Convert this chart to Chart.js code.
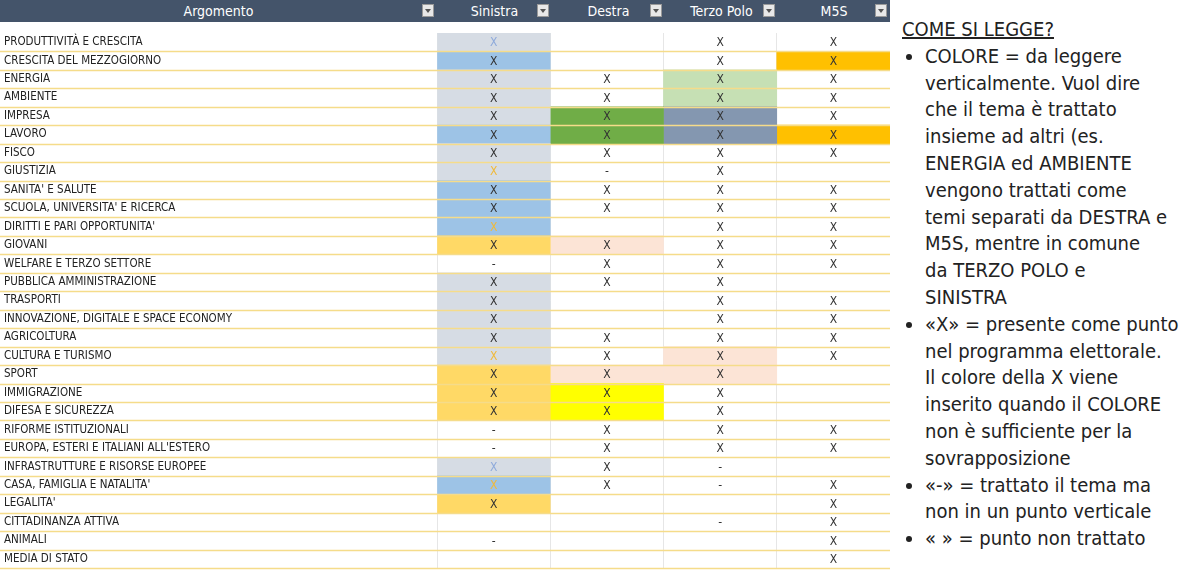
<!DOCTYPE html>
<html><head><meta charset="utf-8">
<script src="https://cdn.jsdelivr.net/npm/chart.js@4"></script>
<style>
body{margin:0;width:1200px;height:580px;background:#fff;overflow:hidden;font-family:"DejaVu Sans Condensed","DejaVu Sans",sans-serif;}
#hdr{position:absolute;left:0;top:0;width:890px;height:22px;background:#44546a;color:#fff;font-size:14px;}
#hdr div{position:absolute;top:0;height:22px;line-height:22px;text-align:center;}
#hdr span{position:absolute;top:4px;width:12px;height:13px;background:#e8e8e8;border:1px solid #999;box-sizing:border-box;}
#hdr span:after{content:"";position:absolute;left:2px;top:4px;border-left:3px solid transparent;border-right:3px solid transparent;border-top:4px solid #555;}
#wrap{position:absolute;left:0;top:22px;width:890px;height:557px;}
#panel{position:absolute;left:898px;top:16px;width:302px;color:#222;font-size:20px;line-height:26.8px;white-space:nowrap;}
#panel h3{margin:0 0 0 4px;font-weight:normal;font-size:20px;text-decoration:underline;}
#panel ul{margin:0;padding-left:27px;}
</style></head><body>
<div id="hdr"></div>
<div id="wrap"><canvas id="c"></canvas></div>
<div id="panel"><h3>COME SI LEGGE?</h3><ul>
<li>COLORE = da leggere<br>verticalmente. Vuol dire<br>che il tema è trattato<br>insieme ad altri (es.<br>ENERGIA ed AMBIENTE<br>vengono trattati come<br>temi separati da DESTRA e<br>M5S, mentre in comune<br>da TERZO POLO e<br>SINISTRA</li>
<li>«X» = presente come punto<br>nel programma elettorale.<br>Il colore della X viene<br>inserito quando il COLORE<br>non è sufficiente per la<br>sovrapposizione</li>
<li>«-» = trattato il tema ma<br>non in un punto verticale</li>
<li>« » = punto non trattato</li></ul></div>
<script>
const topics=["PRODUTTIVITÀ E CRESCITA","CRESCITA DEL MEZZOGIORNO","ENERGIA","AMBIENTE","IMPRESA","LAVORO","FISCO","GIUSTIZIA","SANITA' E SALUTE","SCUOLA, UNIVERSITA' E RICERCA","DIRITTI E PARI OPPORTUNITA'","GIOVANI","WELFARE E TERZO SETTORE","PUBBLICA AMMINISTRAZIONE","TRASPORTI","INNOVAZIONE, DIGITALE E SPACE ECONOMY","AGRICOLTURA","CULTURA E TURISMO","SPORT","IMMIGRAZIONE","DIFESA E SICUREZZA","RIFORME ISTITUZIONALI","EUROPA, ESTERI E ITALIANI ALL'ESTERO","INFRASTRUTTURE E RISORSE EUROPEE","CASA, FAMIGLIA E NATALITA'","LEGALITA'","CITTADINANZA ATTIVA","ANIMALI","MEDIA DI STATO"];
const parties=["Sinistra","Destra","Terzo Polo","M5S"];
// marks: X normal, B blue X, Y yellow X, - dash, '' none
const marksSinistra=["B","X","X","X","X","X","X","Y","X","X","Y","X","-","X","X","X","X","Y","X","X","X","-","-","B","Y","X","","-",""];
const marksDestra=["","","X","X","X","X","X","-","X","X","","X","X","X","","","X","X","X","X","X","X","X","X","X","","","",""];
const marksTerzo=["X","X","X","X","X","X","X","X","X","X","X","X","X","X","X","X","X","X","X","X","X","X","X","-","-","","-","",""];
const marksM5S=["X","X","X","X","X","X","X","","X","X","X","X","X","","X","X","X","X","","","","X","X","","X","X","X","X","X"];
// fill codes: g grey, b blue, o orange, l light green, G green, s slate, y gold, p peach, Y yellow
const fillSinistra=["g","b","g","g","g","b","g","g","b","b","b","y","","g","g","g","g","g","y","y","y","","","g","b","y","","",""];
const fillDestra=["","","","","G","G","","","","","","p","","","","","","","p","Y","Y","","","","","","","",""];
const fillTerzo=["","","l","l","s","s","","","","","","","","","","","","p","p","","","","","","","","","",""];
const fillM5S=["","o","","","","o","","","","","","","","","","","","","","","","","","","","","","",""];
const palette={g:"#d6dce4",b:"#9dc3e6",o:"#ffc000",l:"#c6e0b4",G:"#70ad47",s:"#8497b0",y:"#ffd966",p:"#fce4d6",Y:"#ffff00","":"rgba(0,0,0,0)"};
const allMarks=[marksSinistra,marksDestra,marksTerzo,marksM5S];
const allFills=[fillSinistra,fillDestra,fillTerzo,fillM5S];

const hdr=document.getElementById('hdr');
const cols=[[0,437,"Argomento"],[437,552,"Sinistra"],[552,665,"Destra"],[665,778,"Terzo Polo"],[778,890,"M5S"]];
cols.forEach(c=>{const d=document.createElement('div');d.style.left=c[0]+'px';d.style.width=(c[1]-c[0])+'px';d.textContent=c[2];hdr.appendChild(d);
const s=document.createElement('span');s.style.left=(c[1]-15)+'px';hdr.appendChild(s);});

const datasets=parties.map((p,i)=>({label:p,data:topics.map(()=>[i,i+1]),backgroundColor:allFills[i].map(f=>palette[f]),borderWidth:0,grouped:false,barPercentage:1,categoryPercentage:1}));
const markPlugin={id:'marks',afterDatasetsDraw(ch){const ctx=ch.ctx,x=ch.scales.x,y=ch.scales.y;ctx.save();ctx.textAlign='center';ctx.textBaseline='middle';
ctx.font='12px "DejaVu Sans Condensed", sans-serif';
allMarks.forEach((arr,i)=>arr.forEach((m,r)=>{if(!m)return;const cx=x.getPixelForValue(i+0.5),cy=y.getPixelForValue(r);
ctx.fillStyle=m==='B'?'#8eaadb':m==='Y'?'#f0b93a':'#333';ctx.fillText(m==='-'?'-':'X',cx,cy+1);}));
ctx.strokeStyle='#f5dc8a';ctx.lineWidth=1.5;for(let r=1;r<=topics.length;r++){const yy=Math.round(y.getPixelForValue(r-0.5))+0.5;ctx.beginPath();ctx.moveTo(0,yy);ctx.lineTo(x.right,yy);ctx.stroke();}
ctx.restore();}};
new Chart(document.getElementById('c'),{type:'bar',data:{labels:topics,datasets},
options:{indexAxis:'y',responsive:true,maintainAspectRatio:false,animation:false,
layout:{padding:{top:0,bottom:1,left:4,right:0}},
plugins:{legend:{display:false},tooltip:{enabled:false}},
scales:{x:{type:'linear',min:0,max:4,display:true,position:'top',afterFit(a){a.height=0;},ticks:{display:false,stepSize:1},border:{display:false},grid:{color:'#e6e6e6',drawTicks:false}},
y:{type:'category',offset:true,afterFit(a){a.width=433;},border:{display:false},grid:{display:false},
ticks:{crossAlign:'far',padding:4,color:'#222',font:{family:'"DejaVu Sans Condensed", sans-serif',size:11.5}}}}},
plugins:[markPlugin]});
</script></body></html>
